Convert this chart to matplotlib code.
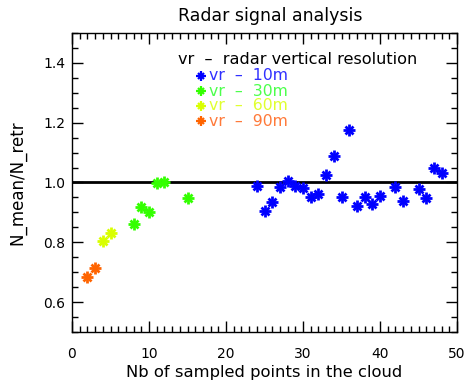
import matplotlib
matplotlib.use("Agg")
import matplotlib.pyplot as plt
from matplotlib.ticker import MultipleLocator, FormatStrFormatter

plt.rcParams['font.family'] = ['DejaVu Sans']

# data
x_10m = [24, 25, 26, 27, 28, 29, 30, 31, 32, 33, 34, 35, 36, 37, 38, 39, 40, 42, 43, 45, 46, 47, 48]
y_10m = [0.989, 0.906, 0.936, 0.984, 1.006, 0.989, 0.981, 0.952, 0.963, 1.026, 1.087, 0.952,
         1.176, 0.922, 0.950, 0.928, 0.956, 0.986, 0.939, 0.978, 0.948, 1.050, 1.033]
x_30m = [8, 9, 10, 11, 12, 15]
y_30m = [0.861, 0.917, 0.901, 0.997, 1.003, 0.947]
x_60m = [4, 5]
y_60m = [0.806, 0.832]
x_90m = [2, 3]
y_90m = [0.683, 0.715]

series = [
    ("vr  \u2013  10m", x_10m, y_10m, '#0000ff', '#3030ff'),
    ("vr  \u2013  30m", x_30m, y_30m, '#33ff00', '#4cff4c'),
    ("vr  \u2013  60m", x_60m, y_60m, '#d8ff00', '#e0ff30'),
    ("vr  \u2013  90m", x_90m, y_90m, '#ff6400', '#ff7a3a'),
]

fig = plt.figure(figsize=(4.7, 3.85), dpi=100)
ax = fig.add_axes([72/470, 1-332/385, (457-72)/470, (332-33)/385])

ax.axhline(1.0, color='black', lw=2, zorder=1)

for label, xs, ys, c, tc in series:
    ax.plot(xs, ys, linestyle='none', marker='+', ms=8, mew=2.0, color=c, zorder=3)
    ax.plot(xs, ys, linestyle='none', marker='x', ms=6, mew=2.0, color=c, zorder=3)

ax.set_xlim(0, 50)
ax.set_ylim(0.5, 1.5)
ax.xaxis.set_major_locator(MultipleLocator(10))
ax.xaxis.set_minor_locator(MultipleLocator(1))
ax.yaxis.set_major_locator(MultipleLocator(0.2))
ax.yaxis.set_minor_locator(MultipleLocator(0.05))
ax.yaxis.set_major_formatter(FormatStrFormatter('%.1f'))
ax.tick_params(which='both', direction='in', top=True, right=True, labelsize=10, color='black')
ax.tick_params(which='major', length=8, width=1)
ax.tick_params(which='minor', length=4, width=1)
ax.tick_params(axis='x', pad=11)
ax.tick_params(axis='y', pad=5)
for s in ax.spines.values():
    s.set_linewidth(1)

ax.set_xlabel("Nb of sampled points in the cloud", fontsize=11.8, labelpad=3)
ax.set_ylabel("N_mean/N_retr", fontsize=12, labelpad=12)
fig.text(270/470, 1-16/385, "Radar signal analysis", fontsize=12.5, ha='center', va='center')

# legend
fig.text(178/470, 1-60/385, "vr  \u2013  radar vertical resolution", fontsize=11.6,
         color='black', ha='left', va='center')
for i, (label, xs, ys, c, tc) in enumerate(series):
    yy = 1 - (76 + 15*i)/385
    for m, s in (('+', 6.5), ('x', 4.8)):
        fig.lines.append(plt.Line2D([201/470], [yy], transform=fig.transFigure,
                                    marker=m, ms=s, mew=1.6, color=c, linestyle='none'))
    fig.text(209/470, yy, label, fontsize=11.3, color=tc, ha='left', va='center')

fig.savefig("out.png", dpi=100)
